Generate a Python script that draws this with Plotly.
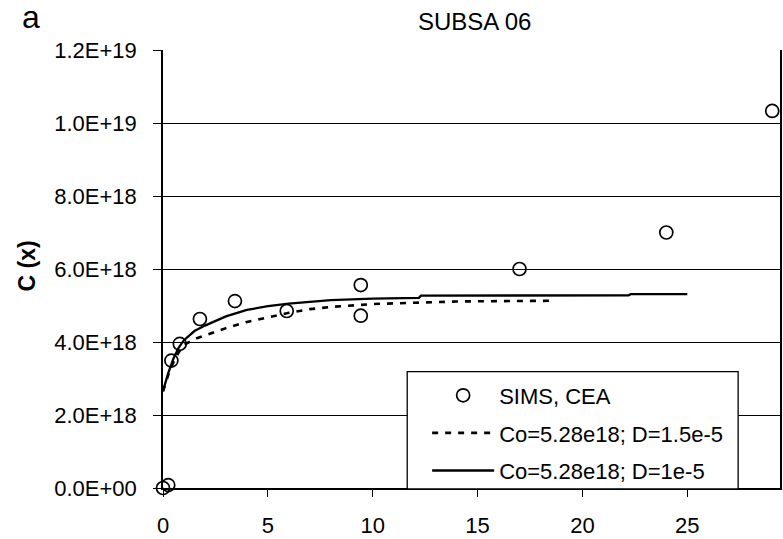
import plotly.graph_objects as go

# measured data (SIMS, CEA)
sims_x = [0.0, 0.25, 0.4, 0.8, 1.76, 3.43, 5.9, 9.43, 9.43, 17.0, 24.0, 29.05]
sims_y = [0.0, 0.08e18, 3.49e18, 3.95e18, 4.63e18, 5.12e18, 4.85e18, 5.56e18, 4.72e18, 6.0e18, 7.0e18, 10.33e18]

# model curve D=1.5e-5 (dashed)
dash_x = [0, 0.25, 0.5, 0.75, 1, 1.5, 2, 3, 4, 5, 6, 7, 8, 10, 12, 14, 16, 18.7]
dash_y = [2.65e18, 3.1e18, 3.45e18, 3.72e18, 3.92e18, 4.08e18, 4.18e18, 4.38e18, 4.55e18,
          4.68e18, 4.8e18, 4.9e18, 4.96e18, 5.04e18, 5.08e18, 5.11e18, 5.12e18, 5.13e18]

# model curve D=1e-5 (solid)
solid_x = [0, 0.25, 0.5, 0.75, 1.0, 1.5, 2, 3, 4, 5, 6, 7, 8, 10, 12.2, 12.3, 22.2, 22.3, 25]
solid_y = [2.65e18, 3.15e18, 3.55e18, 3.85e18, 4.05e18, 4.3e18, 4.45e18, 4.7e18, 4.88e18,
           4.98e18, 5.05e18, 5.1e18, 5.15e18, 5.19e18, 5.21e18, 5.27e18, 5.28e18, 5.31e18, 5.31e18]

y_tickvals = [0, 2e18, 4e18, 6e18, 8e18, 1e19, 1.2e19]
y_ticktext = ["0.0E+00", "2.0E+18", "4.0E+18", "6.0E+18", "8.0E+18", "1.0E+19", "1.2E+19"]
x_tickvals = [0, 5, 10, 15, 20, 25]

FONT = "Liberation Sans, Arial, sans-serif"
W, H = 783, 539
ML, MR, MT, MB = 163, 1, 50, 49
pw, ph = W - ML - MR, H - MT - MB
def px(xp): return (xp - ML) / pw
def py(yp): return (H - MB - yp) / ph

fig = go.Figure()
fig.add_trace(go.Scatter(
    x=sims_x, y=sims_y, mode="markers", name="SIMS, CEA", legendgroup="a",
    marker=dict(symbol="circle-open", size=13, color="black", line=dict(width=1.7)),
    cliponaxis=False))
fig.add_trace(go.Scatter(
    x=dash_x, y=dash_y, mode="lines", name="Co=5.28e18; D=1.5e-5", legendgroup="b",
    line=dict(color="black", width=2.6, dash="6px,7px")))
fig.add_trace(go.Scatter(
    x=solid_x, y=solid_y, mode="lines", name="Co=5.28e18; D=1e-5", legendgroup="c",
    line=dict(color="black", width=2.3)))

def ann(text, x, y, size, **kw):
    return dict(text=text, x=px(x), y=py(y), xref="paper", yref="paper",
                xanchor="center", yanchor="middle", showarrow=False,
                font=dict(size=size, family=FONT), **kw)

fig.update_layout(
    width=W, height=H,
    margin=dict(l=ML, r=MR, t=MT, b=MB),
    paper_bgcolor="white", plot_bgcolor="white",
    font=dict(family=FONT, size=22, color="black"),
    showlegend=True,
    legend=dict(x=px(428), y=py(376), xanchor="left", yanchor="top",
                bgcolor="rgba(0,0,0,0)", borderwidth=0,
                font=dict(size=22, family=FONT), traceorder="grouped",
                tracegroupgap=6, itemwidth=62),
    shapes=[dict(type="rect", xref="paper", yref="paper",
                 x0=px(408), x1=px(740), y0=py(491), y1=py(373),
                 line=dict(color="black", width=1.3), fillcolor="white", layer="above")],
    annotations=[
        ann("SUBSA 06", 476, 21, 24),
        ann("a", 31, 17, 32),
        ann("<b>C (x)</b>", 27, 267, 23, textangle=-90),
    ],
)

fig.update_xaxes(range=[0, 29.42], tickvals=x_tickvals, ticks="outside", ticklen=7,
                 tickcolor="black", showline=True, linecolor="black", linewidth=1.5,
                 mirror=False, showgrid=False, zeroline=False, ticklabelstandoff=10,
                 tickfont=dict(size=22, family=FONT))
fig.update_yaxes(range=[0, 1.2e19], tickvals=y_tickvals, ticktext=y_ticktext,
                 ticks="outside", ticklen=8, tickcolor="black",
                 showline=True, linecolor="black", linewidth=1.5, mirror=True,
                 showgrid=True, gridcolor="black", gridwidth=1.2, zeroline=False,
                 ticklabelstandoff=12,
                 tickfont=dict(size=22, family=FONT))

fig.write_html("out.html")
